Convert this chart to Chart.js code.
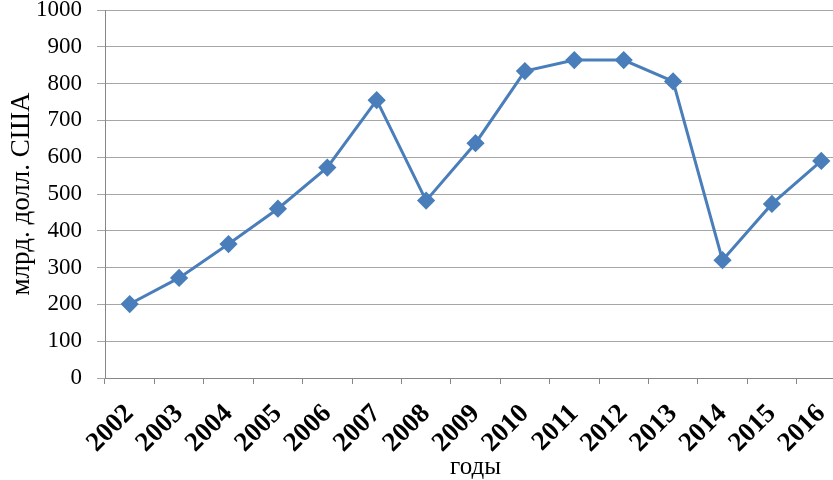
<!DOCTYPE html>
<html>
<head>
<meta charset="utf-8">
<script src="https://cdn.jsdelivr.net/npm/chart.js@4"></script>
<style>
  html, body { margin: 0; padding: 0; background: #fff; overflow: hidden; }
  #wrap { width: 856px; height: 480px; position: relative; }
</style>
</head>
<body>
<div id="wrap"><canvas id="myChart"></canvas></div>
<script>
var years = ["2002", "2003", "2004", "2005", "2006", "2007", "2008", "2009",
             "2010", "2011", "2012", "2013", "2014", "2015", "2016"];
var values = [201, 272, 364, 460, 572, 755, 482, 638, 834, 864, 864, 806, 320, 473, 590];
var yTicks = [0, 100, 200, 300, 400, 500, 600, 700, 800, 900, 1000];

var serif = "'Liberation Serif', 'Times New Roman', serif";

var ctx = document.getElementById("myChart").getContext("2d");
var myChart = new Chart(ctx, {
    type: "line",
    data: {
        labels: years,
        datasets: [
            {
                label: "млрд. долл. США",
                data: values,
                borderColor: "#4a7ebb",
                backgroundColor: "#4a7ebb",
                borderWidth: 3,
                pointStyle: "rectRot",
                pointRadius: 7,
                pointHoverRadius: 7,
                tension: 0,
            },
        ],
    },
    options: {
        responsive: true,
        maintainAspectRatio: false,
        animation: false,
        layout: { padding: { top: 9, right: 0, left: 6, bottom: 2 } },
        plugins: {
            legend: { display: false },
            tooltip: { enabled: false },
        },
        scales: {
            x: {
                offset: true,
                grid: {
                    offset: true,
                    drawOnChartArea: false,
                    color: "#868686",
                    tickLength: 6,
                },
                border: { color: "#868686", width: 1 },
                ticks: {
                    color: "#000",
                    font: { family: serif, size: 27, weight: "bold" },
                    maxRotation: 45,
                    minRotation: 45,
                    padding: 14,
                    autoSkip: false,
                },
                title: {
                    display: true,
                    text: "годы",
                    color: "#000",
                    font: { family: serif, size: 25 },
                    padding: { top: 0, bottom: -4 },
                },
                afterFit: function (scale) {
                    scale.height = 100;
                    scale.paddingLeft = 0;
                    scale.paddingRight = 0;
                },
            },
            y: {
                min: 0,
                max: 1000,
                afterBuildTicks: function (scale) {
                    scale.ticks = yTicks.map(function (v) { return { value: v }; });
                },
                grid: {
                    color: "#a6a6a6",
                    tickLength: 8,
                },
                border: { color: "#868686", width: 1 },
                ticks: {
                    color: "#000",
                    font: { family: serif, size: 23 },
                    padding: 15,
                    callback: function (v) { return String(v); },
                },
                title: {
                    display: true,
                    text: "млрд. долл. США",
                    color: "#000",
                    font: { family: serif, size: 27 },
                    padding: { top: 0, bottom: 4 },
                },
                afterFit: function (scale) {
                    scale.width = 99;
                    scale.paddingTop = 0;
                    scale.paddingBottom = 0;
                },
            },
        },
    },
});
</script>
</body>
</html>
